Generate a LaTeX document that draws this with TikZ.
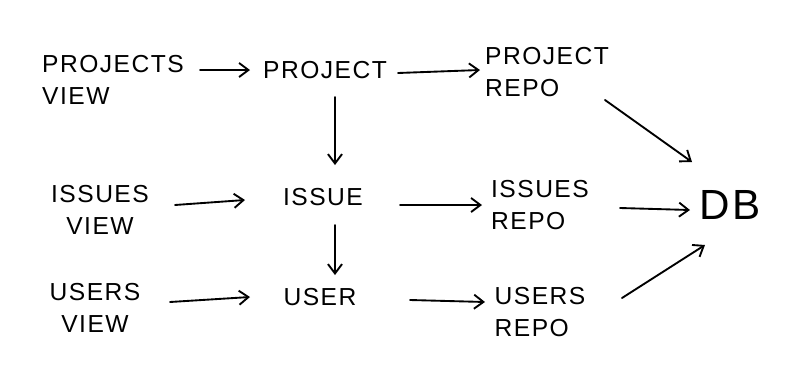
\documentclass[tikz,border=0pt]{standalone}
\usepackage{fontspec}
\setmainfont{Liberation Sans}[LetterSpace=6]
\usetikzlibrary{arrows.meta}
\begin{document}
\begin{tikzpicture}[x=0.03cm,y=-0.03cm,
  lbl/.style={font=\fontsize{21}{27}\selectfont, align=center, inner sep=8pt},
  lbll/.style={lbl, align=left},
  arr/.style={-{Straight Barb[length=8pt,width=12pt,line width=1.6pt]}, line width=1.6pt, line cap=round}]
\useasboundingbox[fill=white] (0,0) rectangle (800,385);
\node[lbll] (pv) at (113,80) {PROJECTS\\VIEW};
\node[lbl] (p)  at (325,70) {PROJECT};
\node[lbll] (pr) at (547,72) {PROJECT\\REPO};
\node[lbl] (iv) at (100,210) {ISSUES\\VIEW};
\node[lbl] (i)  at (323,197) {ISSUE};
\node[lbll] (ir) at (540,205) {ISSUES\\REPO};
\node[lbl,font=\fontsize{36}{40}\selectfont] (db) at (730,205) {DB};
\node[lbl] (uv) at (95,308) {USERS\\VIEW};
\node[lbl] (u)  at (320,297) {USER};
\node[lbll] (ur) at (540,312) {USERS\\REPO};
\draw[arr] ([shift={(87,-10)}]pv.center) -- ([shift={(-75,0)}]p.center);
\draw[arr] ([shift={(73,3)}]p.center) -- ([shift={(-67,-2)}]pr.center);
\draw[arr] ([shift={(10,27)}]p.center) -- ([shift={(12,-32)}]i.center);
\draw[arr] ([shift={(75,-5)}]iv.center) -- ([shift={(-78,3)}]i.center);
\draw[arr] ([shift={(77,8)}]i.center) -- ([shift={(-58,0)}]ir.center);
\draw[arr] ([shift={(12,28)}]i.center) -- ([shift={(15,-22)}]u.center);
\draw[arr] ([shift={(75,-6)}]uv.center) -- ([shift={(-70,0)}]u.center);
\draw[arr] ([shift={(90,3)}]u.center) -- ([shift={(-55,-10)}]ur.center);
\draw[arr] ([shift={(58,28)}]pr.center) -- ([shift={(-38,-43)}]db.center);
\draw[arr] ([shift={(80,3)}]ir.center) -- ([shift={(-40,5)}]db.center);
\draw[arr] ([shift={(82,-14)}]ur.center) -- ([shift={(-25,40)}]db.center);
\end{tikzpicture}
\end{document}
